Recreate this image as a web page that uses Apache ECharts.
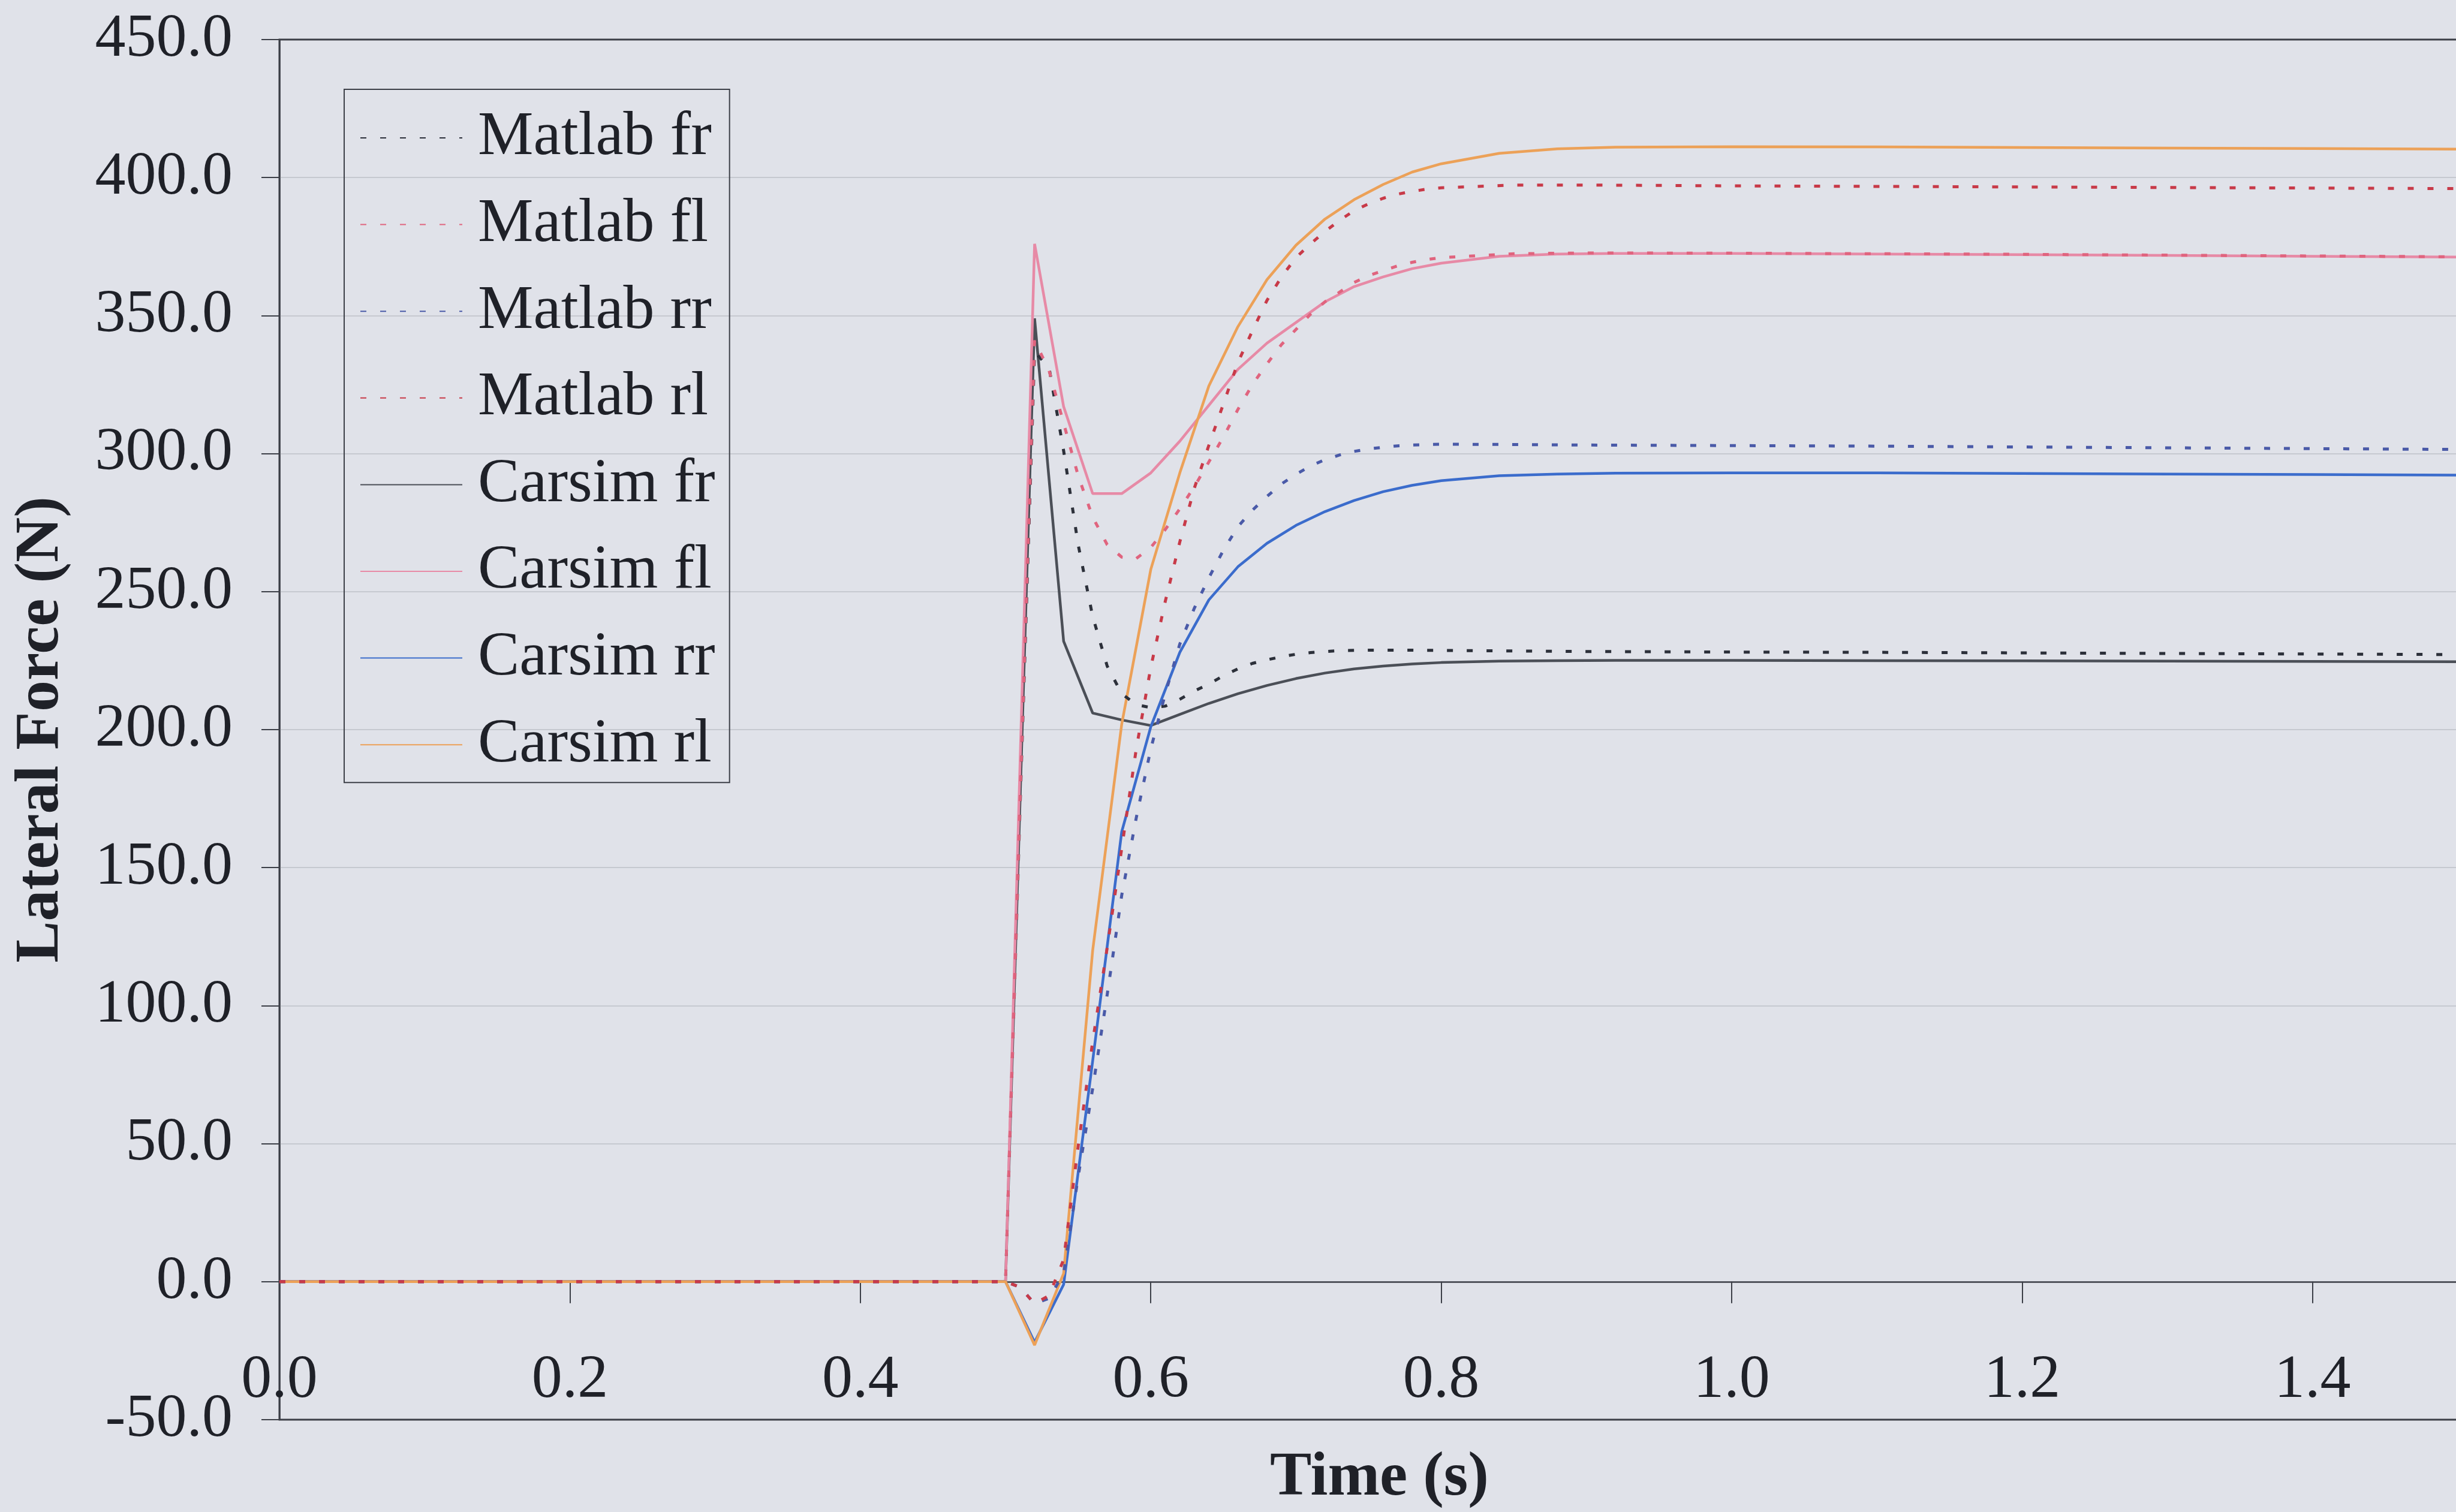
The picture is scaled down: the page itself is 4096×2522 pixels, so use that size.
<!DOCTYPE html>
<html>
<head>
<meta charset="utf-8">
<script src="https://cdn.jsdelivr.net/npm/echarts@6/dist/echarts.min.js"></script>
<style>
html,body{margin:0;padding:0;background:#e0e2e9;}
#c{width:4096px;height:2522px;}
</style>
</head>
<body>
<div id="c"></div>
<script>
// ---- Data ----
const seriesNames = ['Matlab fr','Matlab fl','Matlab rr','Matlab rl','Carsim fr','Carsim fl','Carsim rr','Carsim rl'];
const xTickLabels = ['0.0','0.2','0.4','0.6','0.8','1.0','1.2','1.4'];
const yTickLabels = ['-50.0','0.0','50.0','100.0','150.0','200.0','250.0','300.0','350.0','400.0','450.0'];

const matlabT = [0,0.1,0.2,0.3,0.4,
  0.50,0.51,0.52,0.53,0.54,0.55,0.56,0.57,0.58,0.59,
  0.60,0.61,0.62,0.63,0.64,0.65,0.66,0.67,0.68,0.69,
  0.70,0.71,0.72,0.73,0.74,0.75,0.76,0.77,0.78,0.79,
  0.80,0.85,0.9,1.0,1.1,1.2,1.3,1.4,1.5];
const matlabFr = [0,0,0,0,0,
  0,172,337,331,301,267,241,223,213,209,
  208,208.5,211,214,216.5,219.5,222,224,225.3,226.4,
  227.3,227.9,228.3,228.6,228.7,228.8,228.8,228.8,228.8,228.7,
  228.7,228.5,228.3,228.1,228,227.8,227.6,227.4,227.2];
const matlabFl = [0,0,0,0,0,
  0,175,341,330,311,292,277,267,262.5,262,
  266,272.5,280,288,297,306,316,325,332.5,339.5,
  345,350.5,355,358.5,362,364.5,366.3,368,369.3,370.3,
  371,372.4,372.7,372.6,372.4,372.2,371.9,371.6,371.3];
const matlabRr = [0,0,0,0,0,
  0,-2,-8,-6,3,38,70,104,140,168,
  193,213,231,244,255,265,273.5,279.5,284.5,289,
  292.5,295.5,297.8,299.5,300.8,301.7,302.3,302.8,303.1,303.3,
  303.4,303.3,303.1,302.9,302.7,302.4,302.1,301.8,301.5];
const matlabRl = [0,0,0,0,0,
  0,-2,-8,-5,8,49,87,121,157,193,
  222.5,246.5,268,287.5,303,318,333,344.5,355.5,364,
  371,376,380.5,384.5,388,390.5,392.5,394,395,395.8,
  396.3,397.3,397.3,397,396.8,396.6,396.4,396.2,396];

const carsimT = [0,0.1,0.2,0.3,0.4,0.5,
  0.52,0.54,0.56,0.58,0.60,0.62,0.64,0.66,0.68,0.70,0.72,0.74,0.76,0.78,0.80,
  0.84,0.88,0.92,1.0,1.1,1.2,1.3,1.4,1.5];
const carsimFr = [0,0,0,0,0,0,
  349,232,206,203.5,201.5,205.5,209.5,213,216,218.5,220.5,222,223,223.8,224.3,
  224.8,225,225.1,225.1,225,224.9,224.8,224.7,224.6];
const carsimFl = [0,0,0,0,0,0,
  376,317,285.5,285.5,293,304.5,317.5,330.5,340,347.5,355,360.5,364,367,369,
  371.5,372.3,372.5,372.5,372.3,372.1,371.8,371.5,371.2];
const carsimRr = [0,0,0,0,0,0,
  -22,-1,80,163,201,228,247,259,267.5,274,279,283,286.2,288.5,290.2,
  292,292.6,292.9,293,293,292.8,292.6,292.4,292.2];
const carsimRl = [0,0,0,0,0,0,
  -23,3,120,202,258,293,324.5,346,363,375.5,385,392,397.5,402,405,
  408.8,410.4,411,411.2,411.1,410.9,410.7,410.5,410.3];

// ---- Styling ----
const colors = ['#2c303a','#e0647e','#4a5aa8','#c83a48','#4b4f57','#e78aa6','#3b6ccc','#eca158'];
const FONT = '"Liberation Serif","Times New Roman",serif';
const AX = '#3c3f47';
const TXT = '#1f2128';

function pairs(t, v){ return t.map((x,i)=>[x, v[i]]); }
const dataSets = [
  pairs(matlabT, matlabFr), pairs(matlabT, matlabFl), pairs(matlabT, matlabRr), pairs(matlabT, matlabRl),
  pairs(carsimT, carsimFr), pairs(carsimT, carsimFl), pairs(carsimT, carsimRr), pairs(carsimT, carsimRl)
];

const series = seriesNames.map((n,i)=>{
  const dotted = i < 4;
  return {
    name: n, type: 'line', data: dataSets[i], symbol: 'none', showSymbol: false,
    smooth: false, silent: true, z: dotted ? 20 + i : 10 + i,
    itemStyle: {color: colors[i]},
    lineStyle: dotted ? {color: colors[i], width: 5, type: [10, 23], cap: 'butt'}
                      : {color: colors[i], width: 4.5, type: 'solid'}
  };
});

const chart = echarts.init(document.getElementById('c'), null, {renderer: 'canvas'});
chart.setOption({
  animation: false,
  backgroundColor: '#e0e2e9',
  grid: {left: 466, top: 66, right: -3, bottom: 154, show: true, containLabel: false,
         outerBoundsMode: 'none',
         borderColor: AX, borderWidth: 3, backgroundColor: 'transparent'},
  legend: {
    orient: 'vertical', left: 574, top: 149,
    padding: [26, 24, 8, 26], itemGap: 34.6, itemWidth: 170, itemHeight: 20,
    borderColor: AX, borderWidth: 2, backgroundColor: 'transparent',
    itemStyle: {opacity: 0},
    textStyle: {fontSize: 104, fontFamily: FONT, color: TXT, lineHeight: 110, padding: [0,0,0,21]},
    data: seriesNames
  },
  xAxis: {
    type: 'value', min: 0, max: 1.5, interval: 0.2,
    axisLine: {show: true, onZero: true, lineStyle: {color: AX, width: 2.5}},
    axisTick: {show: true, inside: false, length: 36, lineStyle: {color: AX, width: 2}},
    axisLabel: {margin: -116, fontSize: 102, fontFamily: FONT, color: TXT, showMaxLabel: false,
      formatter: v => { const i = Math.round(v/0.2); return (Math.abs(v - i*0.2) < 1e-6 && i < xTickLabels.length) ? xTickLabels[i] : ''; }},
    splitLine: {show: false},
    name: 'Time (s)', nameLocation: 'middle', nameGap: 46,
    nameTextStyle: {fontSize: 104, fontWeight: 'bold', fontFamily: FONT, color: TXT, padding: [0,0,0,36]}
  },
  yAxis: {
    type: 'value', min: -50, max: 450, interval: 50,
    axisLine: {show: true, lineStyle: {color: AX, width: 2.5}},
    axisTick: {show: true, inside: false, length: 30, lineStyle: {color: AX, width: 2}},
    axisLabel: {margin: 78, fontSize: 102, fontFamily: FONT, color: TXT,
      formatter: v => yTickLabels[Math.round((v + 50)/50)]},
    splitLine: {show: true, showMinLine: false, showMaxLine: false, lineStyle: {color: '#c6c9d0', width: 2}},
    name: 'Lateral Force (N)', nameLocation: 'middle', nameRotate: 90, nameGap: 345,
    nameTextStyle: {fontSize: 104, fontWeight: 'bold', fontFamily: FONT, color: TXT}
  },
  series: series
});
</script>
</body>
</html>
